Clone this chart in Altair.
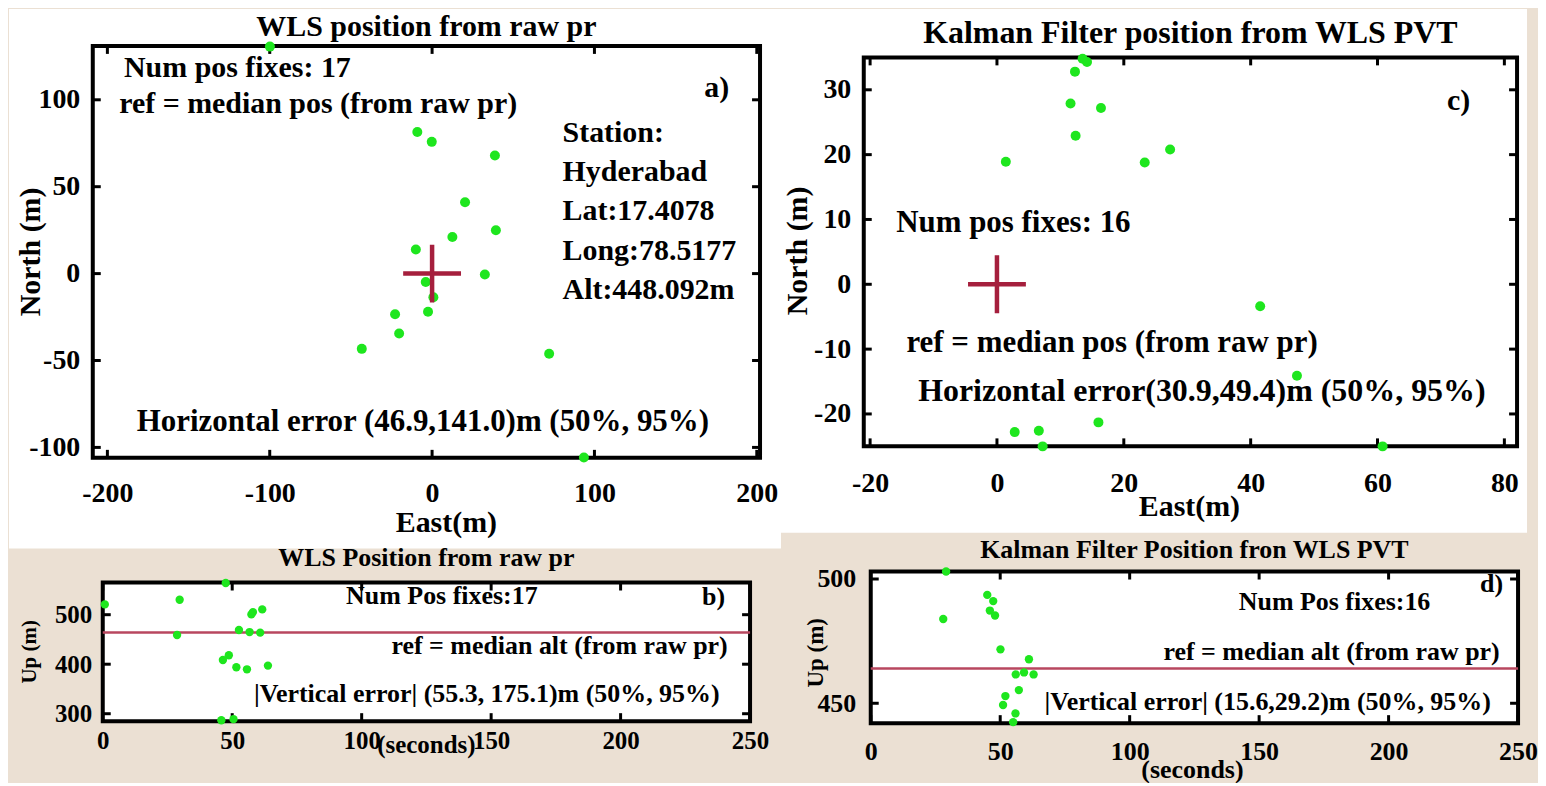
import altair as alt
import pandas as pd

FONT = "Liberation Serif"
GREEN = "#1ee61e"
CROSS_COLOR = "#a51f3d"
REFLINE_COLOR = "#b8475f"
BEIGE = "#ebe0d3"

# ---------------- data ----------------
# a) WLS horizontal position (East, North) in m
A_EAST = [-99.9, -9.1, -0.2, 38.7, 20.3, 12.5, 39.3, -10.0, 32.5, -3.9, 0.8, -2.5, -22.8, -20.3, -43.3, 72.1, 93.5]
A_NORTH = [130.6, 81.5, 75.8, 67.9, 41.0, 21.1, 24.9, 13.9, -0.5, -4.8, -13.6, -22.0, -23.4, -34.5, -43.3, -46.1, -105.8]
A_XTICKS = [-200, -100, 0, 100, 200]
A_YTICKS = [-100, -50, 0, 50, 100]

# c) Kalman filter horizontal position
C_EAST = [13.5, 14.2, 12.3, 11.6, 16.4, 12.4, 1.4, 23.3, 27.3, 41.5, 47.3, 2.8, 6.6, 7.2, 16.0, 60.8]
C_NORTH = [34.8, 34.3, 32.8, 27.9, 27.2, 22.9, 18.9, 18.8, 20.8, -3.4, -14.1, -22.8, -22.6, -25.0, -21.3, -25.0]
C_XTICKS = [-20, 0, 20, 40, 60, 80]
C_YTICKS = [-20, -10, 0, 10, 20, 30]

# b) WLS up vs time
B_TIME = [0.8, 29.7, 47.5, 28.7, 58.0, 57.4, 61.6, 52.6, 56.7, 60.8, 48.7, 46.4, 51.6, 55.7, 63.8, 45.8, 50.5]
B_UP = [520.8, 530.2, 564.0, 458.9, 505.2, 500.6, 510.7, 469.0, 464.9, 463.7, 418.0, 408.5, 393.8, 389.7, 397.2, 286.9, 289.0]
B_XTICKS = [0, 50, 100, 150, 200, 250]
B_YTICKS = [300, 400, 500]

# d) Kalman up vs time
D_TIME = [29.1, 28.0, 45.0, 47.3, 46.0, 48.0, 50.1, 61.1, 56.0, 59.2, 62.9, 57.2, 52.0, 51.1, 55.9, 55.0]
D_UP = [503.0, 483.9, 493.6, 491.1, 487.3, 485.3, 471.7, 467.7, 461.6, 462.4, 461.6, 455.3, 452.9, 449.3, 445.9, 442.4]
D_XTICKS = [0, 50, 100, 150, 200, 250]
D_YTICKS = [450, 500]

REF_POS_EAST = [0]
REF_POS_NORTH = [0]
REF_ALT = [464]

ONE = pd.DataFrame({"k": [0]})


def txt(s, x, y, size, align="left"):
    return alt.Chart(ONE).mark_text(
        text=s, font=FONT, fontSize=size, fontWeight="bold", color="black",
        align=align, baseline="alphabetic"
    ).encode(x=alt.value(x), y=alt.value(y))


def make_panel(p):
    W, H = p["W"], p["H"]
    px0, px1, py0, py1 = p["plot"]
    xs = alt.Scale(domain=p["xdom"], nice=False, zero=False, range=[px0, px1])
    ys = alt.Scale(domain=p["ydom"], nice=False, zero=False, range=[py1, py0])
    xaxis = alt.Axis(
        values=p["xticks"], labelExpr="toString(datum.value)", grid=False, domain=False,
        ticks=False, tickSize=0, labelFont=FONT, labelFontSize=p["lab"], labelFontWeight="bold",
        labelColor="black", labelBaseline="alphabetic", labelPadding=p["xlabpad"],
        labelFlush=False, labelOverlap=False, labelBound=False,
        title=p["xtitle"], titleFont=FONT, titleFontSize=p["xtfs"], titleFontWeight="bold",
        titleColor="black", titleBaseline="alphabetic", titleAlign="center",
        titleX=p["xtx"], titleY=p["xty"], zindex=1)
    yaxis = alt.Axis(
        values=p["yticks"], labelExpr="toString(datum.value)", grid=False, domain=False,
        ticks=False, tickSize=0, labelFont=FONT, labelFontSize=p["lab"], labelFontWeight="bold",
        labelColor="black", labelBaseline="middle", labelPadding=p["ylabpad"],
        labelFlush=False, labelOverlap=False, labelBound=False,
        title=p["ytitle"], titleFont=FONT, titleFontSize=p["ytfs"], titleFontWeight="bold",
        titleColor="black", titleBaseline="alphabetic", titleAlign="center", titleAngle=270,
        titleX=p["ytx"], titleY=p["yty"], zindex=1)

    X = lambda: alt.X("x:Q", scale=xs, axis=xaxis)
    Y = lambda: alt.Y("y:Q", scale=ys, axis=yaxis)

    layers = []
    if "box" in p:
        bx0, bx1, by0, by1 = p["box"]
        layers.append(alt.Chart(ONE).mark_rect(fill="white", strokeWidth=0).encode(
            x=alt.value(bx0), x2=alt.value(bx1), y=alt.value(by0), y2=alt.value(by1)))
    layers.append(alt.Chart(ONE).mark_rect(fill="white", stroke="black", strokeWidth=4).encode(
        x=alt.value(px0), x2=alt.value(px1), y=alt.value(py0), y2=alt.value(py1)))

    TL = 8
    xt = pd.DataFrame({"x": p["xticks"]})
    yt = pd.DataFrame({"y": p["yticks"]})
    layers.append(alt.Chart(yt).mark_rule(color="black", strokeWidth=3).encode(
        y=Y(), x=alt.value(px0), x2=alt.value(px0 + TL)))
    layers.append(alt.Chart(yt).mark_rule(color="black", strokeWidth=3).encode(
        y=Y(), x=alt.value(px1), x2=alt.value(px1 - TL)))
    layers.append(alt.Chart(xt).mark_rule(color="black", strokeWidth=3).encode(
        x=X(), y=alt.value(py1), y2=alt.value(py1 - TL)))
    layers.append(alt.Chart(xt).mark_rule(color="black", strokeWidth=3).encode(
        x=X(), y=alt.value(py0), y2=alt.value(py0 + TL)))

    if p.get("refalt") is not None:
        layers.append(alt.Chart(pd.DataFrame({"y": p["refalt"]})).mark_rule(
            color=REFLINE_COLOR, strokeWidth=2.5).encode(
            y=Y(), x=alt.value(px0), x2=alt.value(px1)))

    pts = pd.DataFrame({"x": p["x"], "y": p["y"]})
    layers.append(alt.Chart(pts).mark_circle(size=p["psize"], color=GREEN, opacity=1).encode(
        x=X(), y=Y()))

    if p.get("cross"):
        cr = pd.DataFrame({"x": REF_POS_EAST, "y": REF_POS_NORTH})
        layers.append(alt.Chart(cr).mark_point(
            shape="M-1,0L1,0M0,-1L0,1", size=3364, filled=False, strokeWidth=4.5,
            color=CROSS_COLOR, opacity=1).encode(x=X(), y=Y()))

    # panel title drawn as text so that the white backdrop does not push it away
    layers.append(txt(p["title"], (px0 + px1) / 2, py0 - p["toff"], p["tfs"], "center"))
    for t in p["texts"]:
        s, tx, ty, fs = t[:4]
        al = t[4] if len(t) > 4 else "left"
        layers.append(txt(s, px0 + tx, py0 + ty, fs, al))

    return alt.layer(*layers).properties(width=W, height=H)


pa = make_panel(dict(
    W=669, H=413, plot=(0, 669, 0, 413),
    xdom=[-209, 202], ydom=[-106, 131], xticks=A_XTICKS, yticks=A_YTICKS,
    x=A_EAST, y=A_NORTH, psize=100, cross=True, lab=28,
    xlabpad=44, ylabpad=13, xtitle="East(m)", xtfs=30, xtx=354, xty=74,
    ytitle="North (m)", ytfs=30, ytx=-53, yty=206,
    title="WLS position from raw pr", tfs=30, toff=10,
    box=[-84, 690, -37, 504],
    texts=[("Num pos fixes: 17", 145, 31, 30, "center"),
           ("ref = median pos (from raw pr)", 226, 67, 30, "center"),
           ("a)", 638, 51, 30, "right"),
           ("Station:", 471, 96, 30), ("Hyderabad", 471, 135.5, 30),
           ("Lat:17.4078", 471, 175, 30), ("Long:78.5177", 471, 214.5, 30),
           ("Alt:448.092m", 471, 254, 30),
           ("Horizontal error (46.9,141.0)m (50%, 95%)", 331, 386, 31, "center")]))

pc = make_panel(dict(
    W=656, H=413, plot=(0, 655, 11.5, 401.5),
    xdom=[-21, 82], ydom=[-25, 35], xticks=C_XTICKS, yticks=C_YTICKS,
    x=C_EAST, y=C_NORTH, psize=100, cross=True, lab=28,
    xlabpad=34, ylabpad=13, xtitle="East(m)", xtfs=30, xtx=326, xty=58,
    ytitle="North (m)", ytfs=30, ytx=-57, yty=205,
    title="Kalman Filter position from WLS PVT", tfs=32, toff=14,
    box=[-86, 665, -37, 488],
    texts=[("Num pos fixes: 16", 150, 175, 31, "center"),
           ("ref = median pos (from raw pr)", 249, 295, 31, "center"),
           ("Horizontal error(30.9,49.4)m (50%, 95%)", 339, 345, 32, "center"),
           ("c)", 608, 53, 30, "right")]))

pb = make_panel(dict(
    W=669, H=152, plot=(10, 659, 11, 150),
    xdom=[0, 250], ydom=[285, 565], xticks=B_XTICKS, yticks=B_YTICKS,
    x=B_TIME, y=B_UP, psize=70, refalt=REF_ALT, lab=25,
    xlabpad=25, ylabpad=1, xtitle="(seconds)", xtfs=25, xtx=334, xty=29,
    ytitle="Up (m)", ytfs=21, ytx=-57, yty=80,
    title="WLS Position from raw pr", tfs=26, toff=17,
    texts=[("Num Pos fixes:17", 340, 22, 26, "center"),
           ("b)", 624, 23, 26, "right"),
           ("ref = median alt (from raw pr)", 458, 72, 26, "center"),
           ("|Vertical error| (55.3, 175.1)m (50%, 95%)", 385, 120, 26, "center")]))

pd_ = make_panel(dict(
    W=656, H=152, plot=(7, 656, 0, 152),
    xdom=[0, 250], ydom=[442, 503], xticks=D_XTICKS, yticks=D_YTICKS,
    x=D_TIME, y=D_UP, psize=70, refalt=REF_ALT, lab=26,
    xlabpad=36, ylabpad=8, xtitle="(seconds)", xtfs=26, xtx=329, xty=54,
    ytitle="Up (m)", ytfs=23, ytx=-41, yty=81,
    title="Kalman Filter Position fron WLS PVT", tfs=26, toff=14,
    texts=[("d)", 634, 21, 26, "right"),
           ("Num Pos fixes:16", 465, 39, 26, "center"),
           ("ref = median alt (from raw pr)", 462, 89, 26, "center"),
           ("|Vertical error|  (15.6,29.2)m (50%, 95%)", 398, 139, 26, "center")]))

chart = alt.concat(
    pa, pc, pb, pd_, columns=2, spacing={"row": 114, "column": 104},
    bounds="flush"
).properties(
    padding={"left": 1, "top": 0, "right": 0, "bottom": 0},
    background=BEIGE
).configure_view(strokeWidth=0)

chart.save("out.html", embed_options={"renderer": "svg", "actions": False})
